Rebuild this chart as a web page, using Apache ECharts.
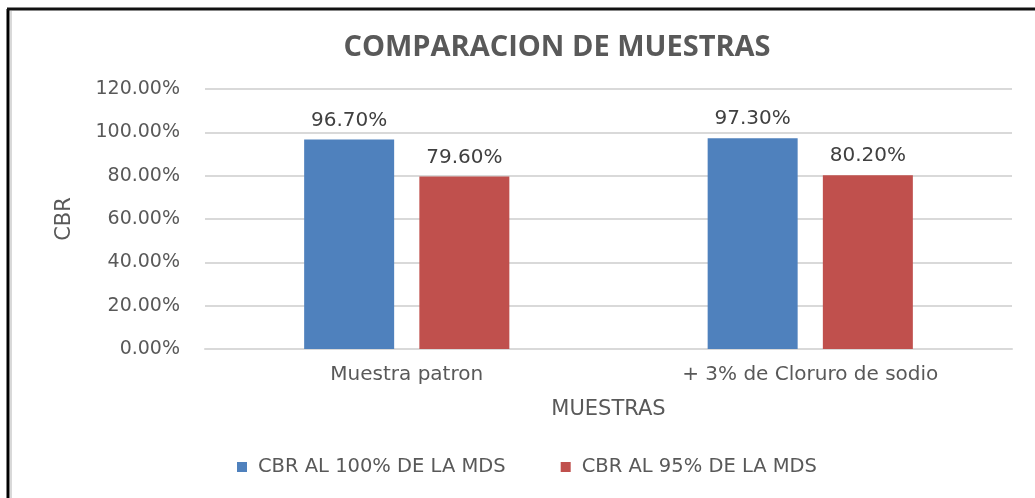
<!DOCTYPE html>
<html>
<head>
<meta charset="utf-8">
<script src="https://cdn.jsdelivr.net/npm/echarts@6/dist/echarts.min.js"></script>
<style>
  html, body { margin: 0; padding: 0; background: #fff; }
  #chart { width: 1035px; height: 498px; }
</style>
</head>
<body>
<div id="chart"></div>
<script>
  // data
  var categories = ['Muestra patron', '+ 3% de Cloruro de sodio'];
  var seriesNames = ['CBR AL 100% DE LA MDS', 'CBR AL 95% DE LA MDS'];
  var cbr100 = [0.967, 0.973];
  var cbr95 = [0.796, 0.802];

  var textColor = '#595959';
  var font = 'DejaVu Sans';

  function pct(v) {
    return (v * 100).toFixed(2) + '%';
  }

  var myChart = echarts.init(document.getElementById('chart'));
  var option = {
    backgroundColor: '#fff',
    textStyle: { fontFamily: font },
    title: {
      text: 'COMPARACION DE MUESTRAS',
      left: 552,
      textAlign: 'center',
      top: 28,
      textStyle: { color: textColor, fontSize: 29, fontWeight: 'bold', fontFamily: 'Open Sans' }
    },
    graphic: [
      { type: 'line', shape: { x1: 8, y1: 9, x2: 8, y2: 498 }, style: { stroke: '#000', lineWidth: 3 } },
      { type: 'line', shape: { x1: 7, y1: 9, x2: 1035, y2: 9 }, style: { stroke: '#111', lineWidth: 3 } },
      { type: 'line', shape: { x1: 11, y1: 11, x2: 11, y2: 498 }, style: { stroke: '#d9d9d9', lineWidth: 2 } }
    ],
    legend: {
      data: seriesNames,
      left: 237,
      top: 457,
      padding: 0,
      itemWidth: 10,
      itemHeight: 10,
      itemGap: 55,
      icon: 'rect',
      textStyle: { color: textColor, fontSize: 19.5, fontFamily: font, padding: [0, 0, 0, 6] }
    },
    grid: { left: 205, right: 23, top: 89, bottom: 149 },
    xAxis: {
      type: 'category',
      data: categories,
      name: 'MUESTRAS',
      nameLocation: 'middle',
      nameGap: 50,
      nameTextStyle: { color: textColor, fontSize: 21, fontFamily: font },
      axisLine: { lineStyle: { color: '#d9d9d9', width: 2 } },
      axisTick: { show: false },
      axisLabel: { color: textColor, fontSize: 20, margin: 16, fontFamily: font }
    },
    yAxis: {
      type: 'value',
      min: 0,
      max: 1.2,
      interval: 0.2,
      name: 'CBR',
      nameLocation: 'middle',
      nameRotate: 90,
      nameGap: 130,
      nameTextStyle: { color: textColor, fontSize: 21, fontFamily: font },
      axisLine: { show: false },
      axisTick: { show: false },
      axisLabel: { color: textColor, fontSize: 19, margin: 25, fontFamily: font, formatter: pct },
      splitLine: { lineStyle: { color: '#d9d9d9', width: 2 } }
    },
    series: [
      {
        name: seriesNames[0],
        type: 'bar',
        data: cbr100,
        barWidth: 90,
        barGap: '28%',
        itemStyle: { color: '#4f81bd' },
        label: {
          show: true, position: 'top', distance: 9,
          color: '#404040', fontSize: 20, fontFamily: font,
          formatter: function (p) { return pct(p.value); }
        }
      },
      {
        name: seriesNames[1],
        type: 'bar',
        data: cbr95,
        barWidth: 90,
        barGap: '28%',
        itemStyle: { color: '#c0504d' },
        label: {
          show: true, position: 'top', distance: 9,
          color: '#404040', fontSize: 20, fontFamily: font,
          formatter: function (p) { return pct(p.value); }
        }
      }
    ]
  };
  myChart.setOption(option);
</script>
</body>
</html>
